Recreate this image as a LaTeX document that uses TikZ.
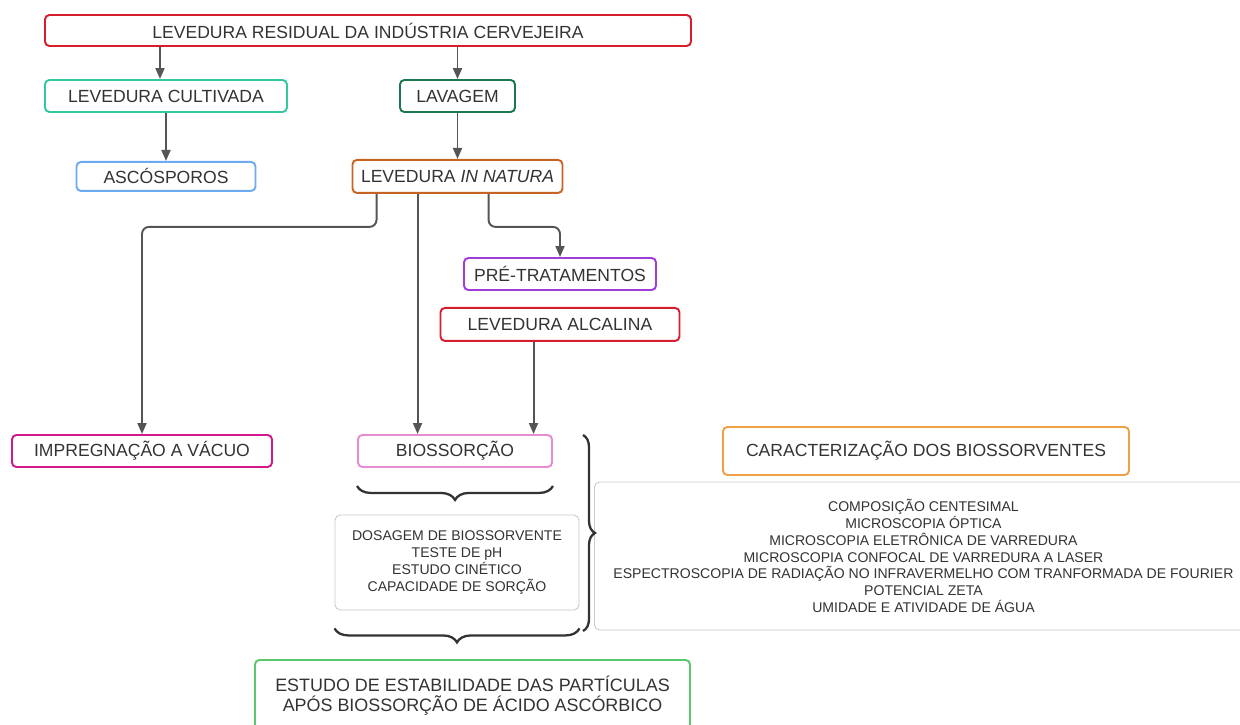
\documentclass[tikz,border=0pt]{standalone}
\usepackage{fontspec}
\setmainfont{Liberation Sans}
\usetikzlibrary{arrows.meta,positioning,decorations.pathreplacing}
\definecolor{txtgray}{RGB}{51,51,51}
\definecolor{linegray}{RGB}{85,85,85}
\definecolor{cred}{RGB}{215,30,45}
\definecolor{cteal}{RGB}{50,200,160}
\definecolor{cdkgreen}{RGB}{25,120,80}
\definecolor{cblue}{RGB}{110,170,240}
\definecolor{cbrown}{RGB}{200,100,35}
\definecolor{cpurple}{RGB}{160,60,215}
\definecolor{cmagenta}{RGB}{210,25,140}
\definecolor{cpink}{RGB}{232,140,210}
\definecolor{corange}{RGB}{240,160,70}
\definecolor{cgreen}{RGB}{90,200,110}
\definecolor{cgray}{RGB}{200,200,200}

\begin{document}
\begin{tikzpicture}[
    node distance=0.9cm,
    box/.style={rectangle, rounded corners=2.5pt, draw, line width=1.1pt, fill=white, text=txtgray, minimum height=0.64cm, text centered, font=\fontsize{10}{12}\selectfont},
    listbox/.style={rectangle, rounded corners=3pt, draw=cgray, line width=0.5pt, fill=white, text=txtgray, align=center, font=\fontsize{8}{9.6}\selectfont},
    arrow/.style={line width=1.1pt, draw=linegray, -{Triangle[length=0.22cm,width=0.18cm]}},
    curly/.style={line width=1.3pt, draw=txtgray, decorate, decoration={brace, amplitude=0.28cm}}
]
    \useasboundingbox (0,0) rectangle (24.8,-14.5);

    \node (top) [box, draw=cred, minimum width=12.92cm, minimum height=0.62cm] at (7.36,-0.61) {LEVEDURA RESIDUAL DA INDÚSTRIA CERVEJEIRA};
    \node (cultivada) [box, draw=cteal, minimum width=4.84cm] at (3.32,-1.92) {LEVEDURA CULTIVADA};
    \node (lavagem) [box, draw=cdkgreen, minimum width=2.30cm] at (9.15,-1.92) {LAVAGEM};
    \node (ascosporos) [box, draw=cblue, minimum width=3.58cm, minimum height=0.58cm, below=0.96cm of cultivada] {ASCÓSPOROS};
    \node (natura) [box, draw=cbrown, minimum width=4.2cm, minimum height=0.66cm, below=0.92cm of lavagem] {LEVEDURA \textit{IN NATURA}};
    \node (pretrat) [box, draw=cpurple, minimum width=3.84cm] at (11.2,-5.48) {PRÉ-TRATAMENTOS};
    \node (alcalina) [box, draw=cred, minimum width=4.78cm, minimum height=0.66cm, below=0.32cm of pretrat] {LEVEDURA ALCALINA};
    \node (impreg) [box, draw=cmagenta, minimum width=5.2cm] at (2.84,-9.02) {IMPREGNAÇÃO A VÁCUO};
    \node (bios) [box, draw=cpink, minimum width=3.88cm] at (9.1,-9.02) {BIOSSORÇÃO};
    \node (caract) [box, draw=corange, minimum width=8.12cm, minimum height=0.96cm] at (18.52,-9.02) {CARACTERIZAÇÃO DOS BIOSSORVENTES};
    \node (ensaios) [listbox, minimum width=4.88cm, minimum height=1.9cm] at (9.14,-11.25) {DOSAGEM DE BIOSSORVENTE\\TESTE DE pH\\ESTUDO CINÉTICO\\CAPACIDADE DE SORÇÃO};
    \node (tecnicas) [listbox, minimum width=13.16cm, minimum height=2.96cm, anchor=west] at (11.88,-11.12) {COMPOSIÇÃO CENTESIMAL\\MICROSCOPIA ÓPTICA\\MICROSCOPIA ELETRÔNICA DE VARREDURA\\MICROSCOPIA CONFOCAL DE VARREDURA A LASER\\ESPECTROSCOPIA DE RADIAÇÃO NO INFRAVERMELHO COM TRANFORMADA DE FOURIER\\POTENCIAL ZETA\\UMIDADE E ATIVIDADE DE ÁGUA};
    \node (estudo) [box, draw=cgreen, minimum width=8.7cm, minimum height=1.44cm, align=center, font=\fontsize{10.2}{11.5}\selectfont] at (9.45,-13.92) {ESTUDO DE ESTABILIDADE DAS PARTÍCULAS\\APÓS BIOSSORÇÃO DE ÁCIDO ASCÓRBICO};

    \coordinate (c1) at ([xshift=-0.12cm]cultivada.north);
    \coordinate (n1) at ([xshift=0.5cm]natura.south west);
    \coordinate (n2) at ([xshift=1.32cm]natura.south west);
    \coordinate (n3) at ([xshift=2.74cm]natura.south west);
    \coordinate (a1) at ([xshift=1.88cm]alcalina.south west);
    \coordinate (vtop) at (11.66,-8.7);
    \coordinate (vbot) at (11.66,-12.62);

    \draw [arrow] (c1 |- top.south) -- (c1);
    \draw [arrow] (lavagem.north |- top.south) -- (lavagem.north);
    \draw [arrow] (cultivada) -- (ascosporos);
    \draw [arrow] (lavagem) -- (natura);
    \draw [arrow, rounded corners=4pt] (n1) -- ++(0,-0.66) -| (impreg.north);
    \draw [arrow] (n2) -- (n2 |- bios.north);
    \draw [arrow, rounded corners=4pt] (n3) -- ++(0,-0.66) -| (pretrat.north);
    \draw [arrow] (a1) -- (a1 |- bios.north);

    \draw [curly] ([yshift=-0.36cm]bios.south east) -- ([yshift=-0.36cm]bios.south west);
    \draw [curly] ([yshift=-0.36cm]ensaios.south east) -- ([yshift=-0.36cm]ensaios.south west);
    \draw [curly, decoration={brace, amplitude=0.24cm}] (vtop) -- (vbot);
\end{tikzpicture}
\end{document}
